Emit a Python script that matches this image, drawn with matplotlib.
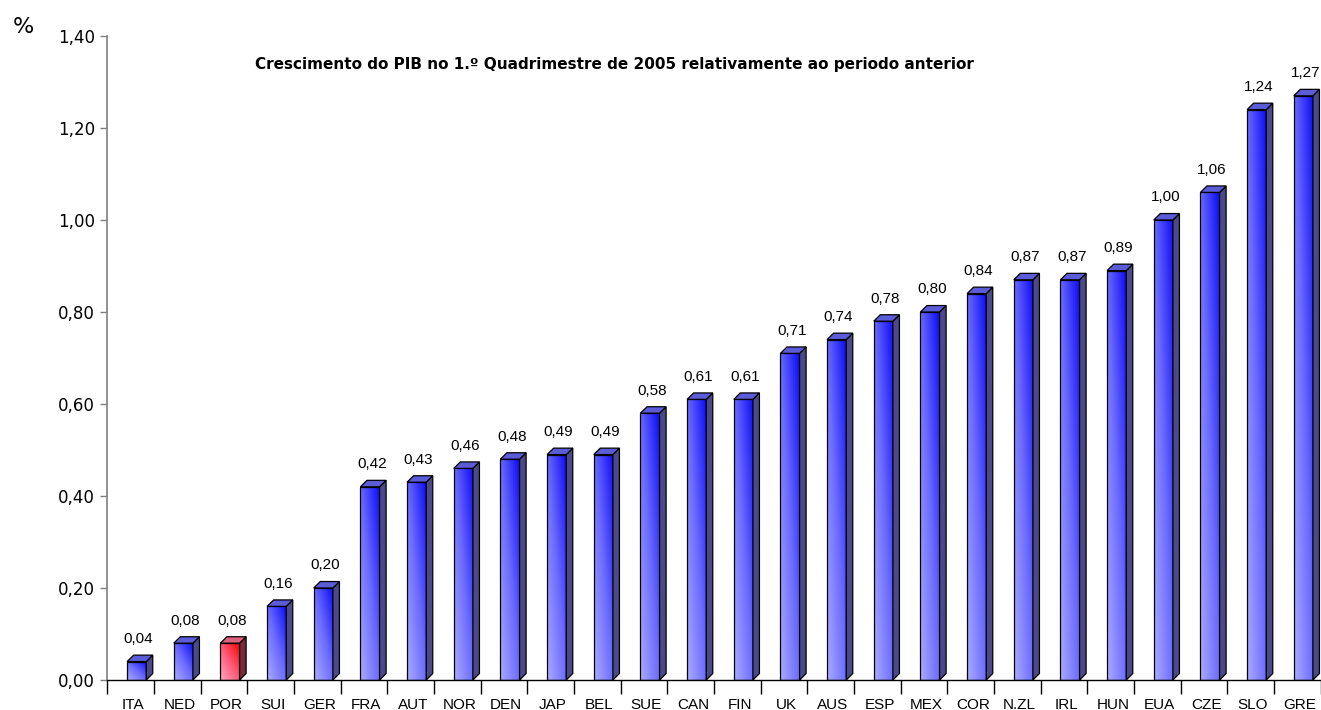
import numpy as np
import matplotlib.pyplot as plt
from matplotlib.patches import Polygon
from matplotlib.colors import LinearSegmentedColormap

countries = ['ITA', 'NED', 'POR', 'SUI', 'GER', 'FRA', 'AUT', 'NOR', 'DEN', 'JAP',
             'BEL', 'SUE', 'CAN', 'FIN', 'UK', 'AUS', 'ESP', 'MEX', 'COR', 'N.ZL',
             'IRL', 'HUN', 'EUA', 'CZE', 'SLO', 'GRE']
growth = [0.04, 0.08, 0.08, 0.16, 0.20, 0.42, 0.43, 0.46, 0.48, 0.49,
          0.49, 0.58, 0.61, 0.61, 0.71, 0.74, 0.78, 0.80, 0.84, 0.87,
          0.87, 0.89, 1.00, 1.06, 1.24, 1.27]
highlight = 'POR'

title = 'Crescimento do PIB no 1.º Quadrimestre de 2005 relativamente ao periodo anterior'

fig = plt.figure(figsize=(13.21, 7.10), dpi=100)
ax = fig.add_axes([0.0812, 0.0423, 0.9185, 0.9070])

w = 0.41          # front face width (category units)
off = 0.13        # bars sit a bit right of the category centre (3D look)
dx = 0.14         # depth offset x
dy = 0.014        # depth offset y

blue_cm = LinearSegmentedColormap.from_list('b', ['#ababff', '#6a6aff', '#0a0af5'])
red_cm = LinearSegmentedColormap.from_list('r', ['#ffa8c4', '#ff5a78', '#f50000'])

# gradient image: lighter bottom-left, saturated top-right
gy, gx = np.mgrid[0:1:100j, 0:1:100j]
grad = 0.5 * gy + 0.5 * gx

idx = np.arange(len(countries))
x = idx + off
for xi, c, v in zip(x, countries, growth):
    red = c == highlight
    cm = red_cm if red else blue_cm
    side_col = '#7a2a3a' if red else '#4a4a88'
    top_col = '#e06080' if red else '#5c5cd8'
    x0, x1 = xi - w / 2, xi + w / 2
    bar = ax.bar(xi, v, width=w, color='none', edgecolor='black', linewidth=0.9, zorder=3)[0]
    im = ax.imshow(grad, cmap=cm, extent=[x0, x1, 0, v], origin='lower',
                   aspect='auto', zorder=2, vmin=0, vmax=1)
    im.set_clip_path(bar)
    side = Polygon([[x1, 0], [x1 + dx, dy], [x1 + dx, v + dy], [x1, v]],
                   closed=True, facecolor=side_col, edgecolor='black', linewidth=0.9, zorder=3)
    top = Polygon([[x0, v], [x0 + dx, v + dy], [x1 + dx, v + dy], [x1, v]],
                  closed=True, facecolor=top_col, edgecolor='black', linewidth=0.9, zorder=3)
    ax.add_patch(side)
    ax.add_patch(top)
    ax.text(xi + 0.04, v + dy + 0.02, f'{v:.2f}'.replace('.', ','), ha='center', va='bottom',
            fontsize=11, family='Liberation Sans')

ax.set_xlim(-0.5, len(countries) - 0.5)
ax.set_ylim(0, 1.4)

yt = np.arange(0, 1.41, 0.2)
ax.set_yticks(yt)
ax.set_yticklabels([f'{t:.2f}'.replace('.', ',') for t in yt], fontsize=12, family='DejaVu Sans')
ax.set_xticks(idx + 0.05)
ax.set_xticklabels(countries, fontsize=11, family='Liberation Sans')
ax.set_xticks(np.arange(-0.5, len(countries) + 0.5, 1), minor=True)
ax.tick_params(axis='x', which='major', length=0, pad=13)
ax.tick_params(axis='x', which='minor', length=10, width=1, color='black')
ax.tick_params(axis='y', length=5, width=1, color='#808080', pad=4)

for s in ['top', 'right']:
    ax.spines[s].set_visible(False)
ax.spines['left'].set_color('#808080')
ax.spines['left'].set_linewidth(1.2)
ax.spines['bottom'].set_color('black')
ax.spines['bottom'].set_linewidth(1)

ax.text(0.418, 0.956, title, transform=ax.transAxes, ha='center', va='center',
        fontsize=11, fontweight='bold', family='DejaVu Sans')
fig.text(0.018, 0.962, '%', fontsize=16, family='DejaVu Sans', ha='center', va='center')

fig.savefig('out.png', dpi=100)
